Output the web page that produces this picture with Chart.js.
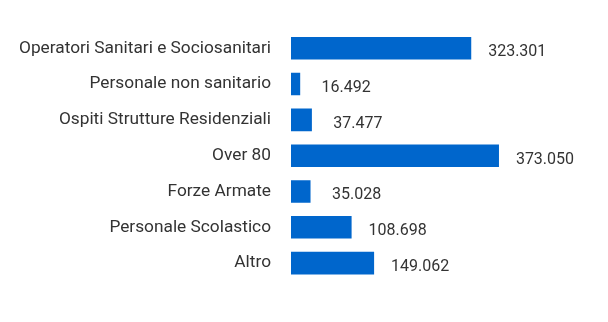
<!DOCTYPE html>
<html>
<head>
<meta charset="utf-8">
<script src="https://cdn.jsdelivr.net/npm/chart.js@4"></script>
<style>
  html, body { margin: 0; padding: 0; background: #fff; }
  #wrap { width: 608px; height: 322px; }
</style>
</head>
<body>
<div id="wrap"><canvas id="catChart"></canvas></div>
<script>
const categories = [
  "Operatori Sanitari e Sociosanitari",
  "Personale non sanitario",
  "Ospiti Strutture Residenziali",
  "Over 80",
  "Forze Armate",
  "Personale Scolastico",
  "Altro",
];
const doses = [323301, 16492, 37477, 373050, 35028, 108698, 149062];

const FONT = "Roboto";
const TEXT = "#333333";
const BLUE = "#0066cc";

// 323301 -> "323.301"
function fmtIt(n) {
  return String(n).replace(/\B(?=(\d{3})+(?!\d))/g, ".");
}

// value label to the right of each bar
const valueLabels = {
  id: "valueLabels",
  afterDatasetsDraw(chart) {
    const c = chart.ctx;
    const meta = chart.getDatasetMeta(0);
    c.save();
    c.font = "16px " + FONT;
    c.fillStyle = TEXT;
    c.textAlign = "center";
    c.textBaseline = "middle";
    meta.data.forEach((bar, i) => {
      c.fillText(fmtIt(doses[i]), bar.x + 46, bar.y + 4);
    });
    c.restore();
  },
};

const ctx = document.getElementById("catChart");
const chart = new Chart(ctx, {
  type: "bar",
  data: {
    labels: categories,
    datasets: [{
      data: doses,
      backgroundColor: BLUE,
      borderWidth: 0,
      barPercentage: 0.63,
      categoryPercentage: 1,
    }],
  },
  options: {
    indexAxis: "y",
    responsive: true,
    maintainAspectRatio: false,
    animation: false,
    layout: { padding: { top: 26, bottom: 41, left: 0, right: 94 } },
    plugins: {
      legend: { display: false },
      tooltip: { enabled: false },
    },
    scales: {
      x: {
        display: false,
        min: 0,
        max: 400000,
      },
      y: {
        grid: { display: false, drawTicks: false },
        border: { display: false },
        ticks: {
          padding: 20,
          color: TEXT,
          font: { family: FONT, size: 17.3 },
        },
        afterFit(scale) { scale.width = 291; },
      },
    },
  },
  plugins: [valueLabels],
});
</script>
</body>
</html>
